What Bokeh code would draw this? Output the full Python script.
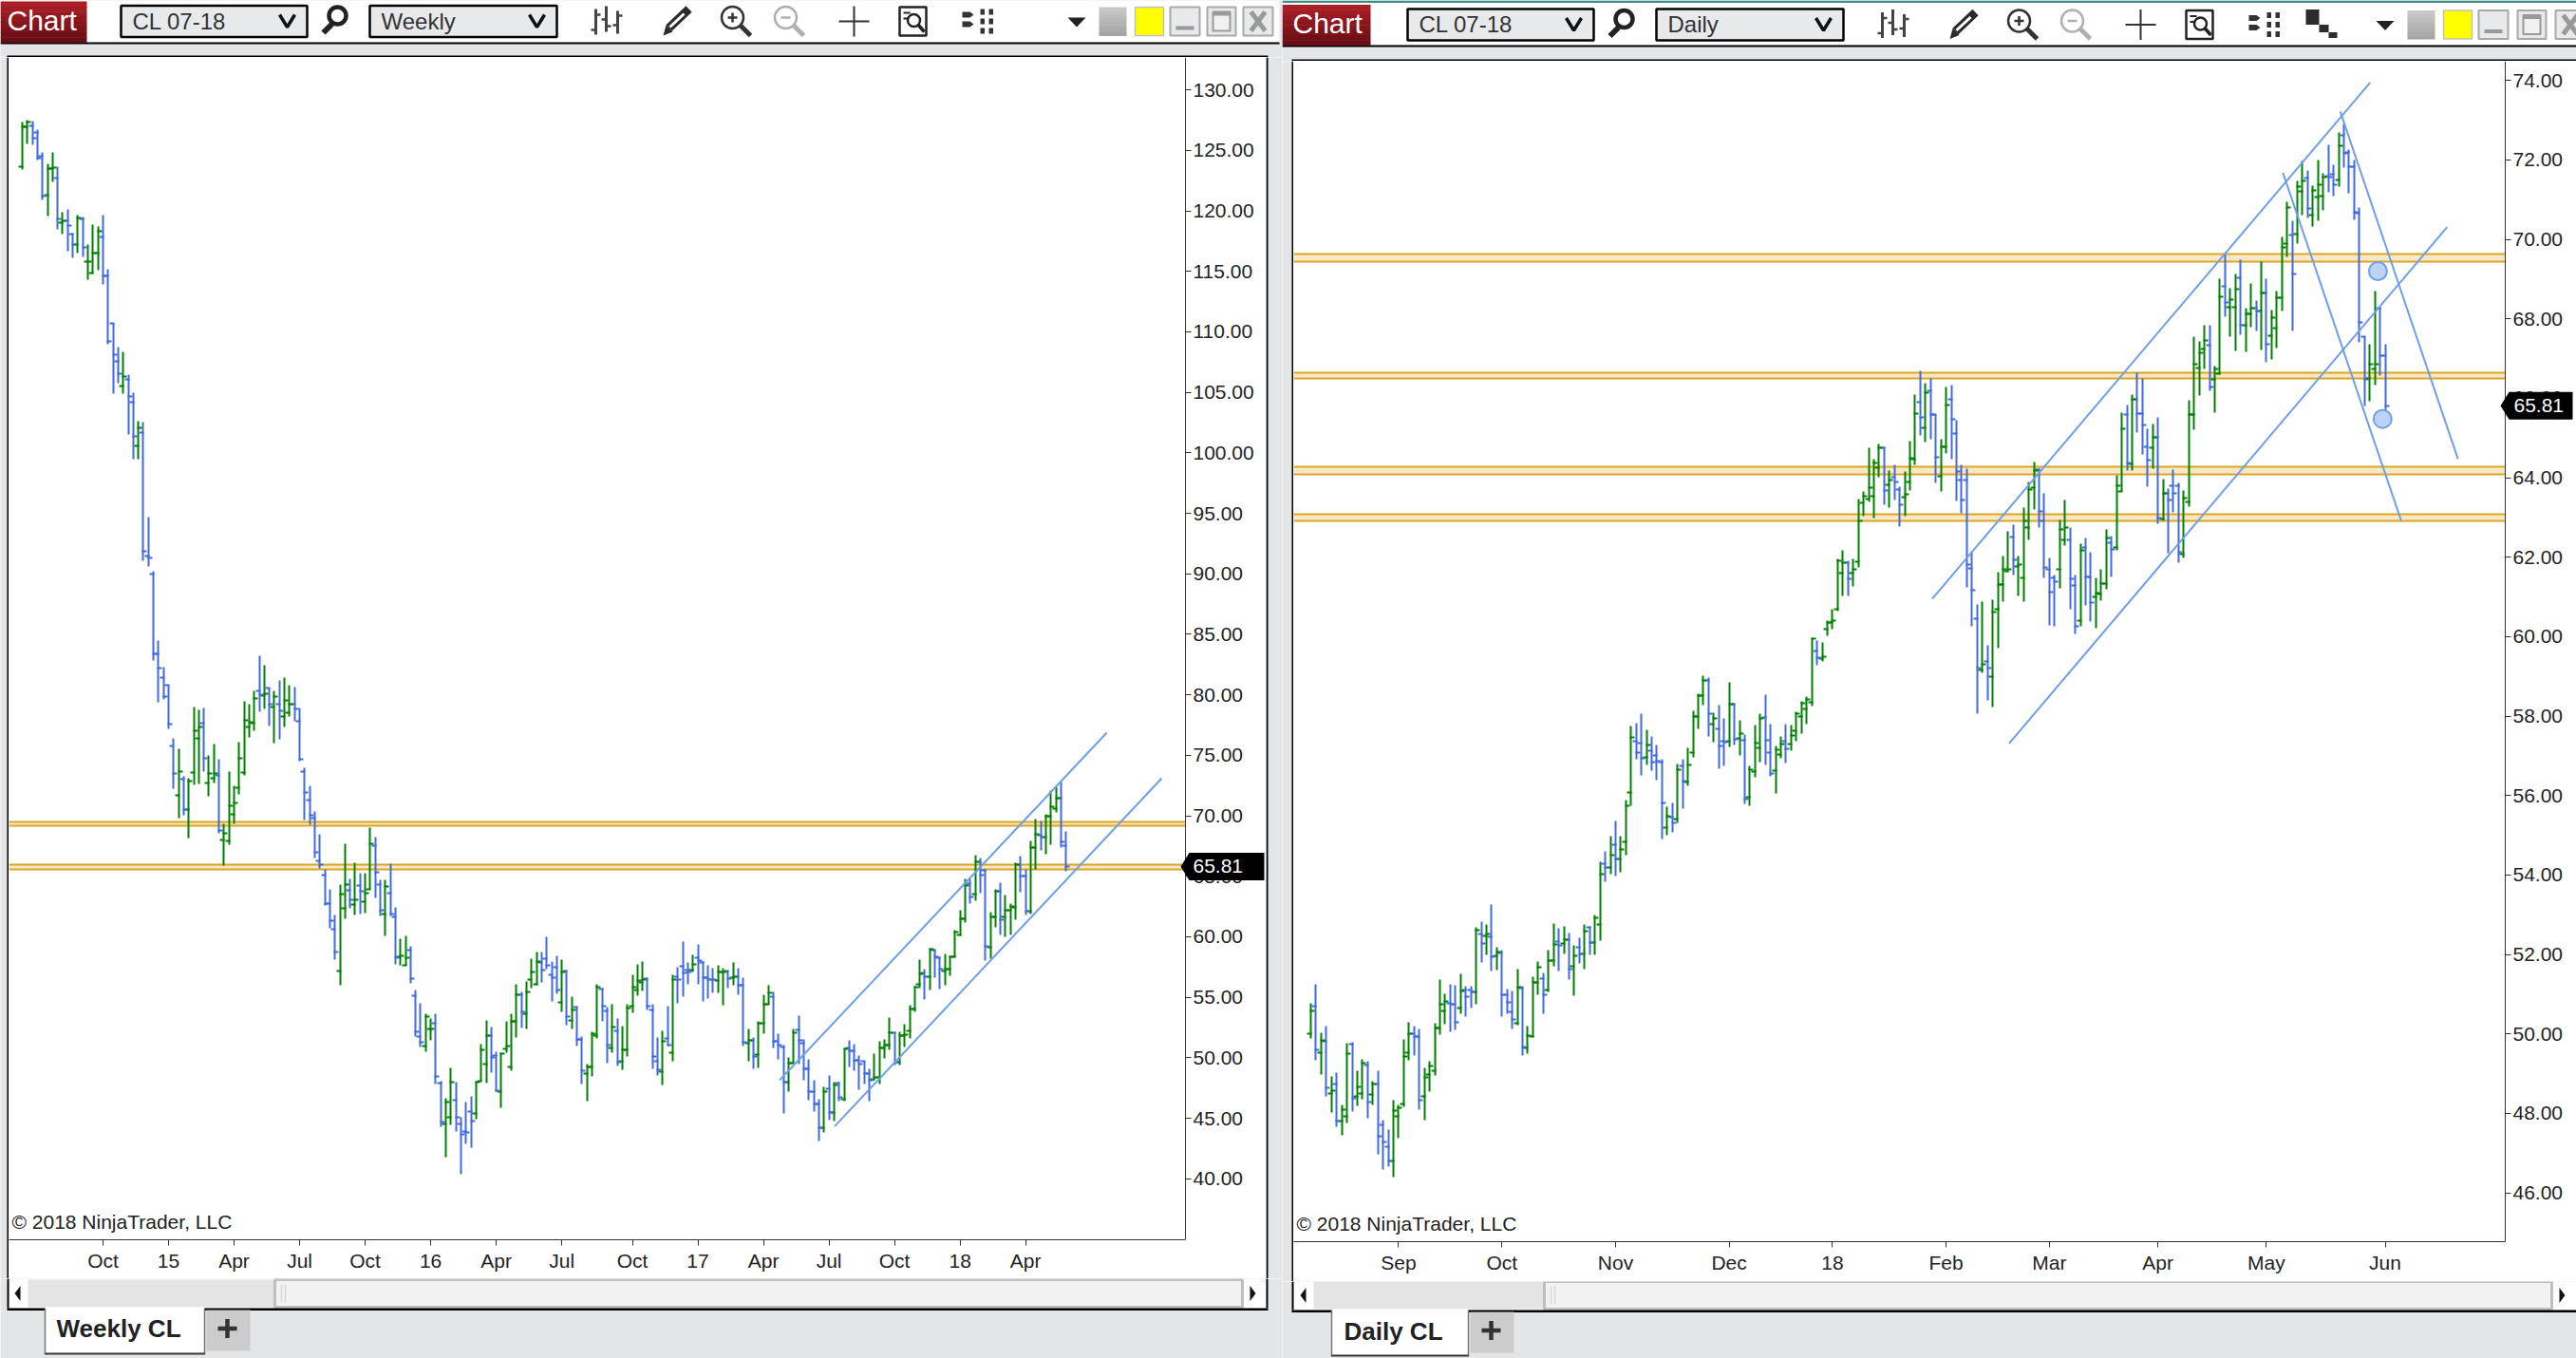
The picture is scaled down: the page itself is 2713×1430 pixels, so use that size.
from bokeh.plotting import figure
from bokeh.layouts import row, column
from bokeh.models import Range1d, FixedTicker, Label, NumeralTickFormatter, LinearAxis
from bokeh.core.properties import value
from bokeh.embed import file_html
from bokeh.resources import INLINE

# ---------- weekly CL 07-18 ----------
weekly_high = [127.33,127.48,127.41,126.72,124.82,123.87,124.86,123.64,119.91,120.1,
 118.16,119.61,119.46,117.25,118.85,118.7,119.65,115.2,110.67,108.76,
 108.38,106.48,105.0,102.64,102.5,94.7,90.2,84.5,82.3,80.8,
 76.4,75.5,73.26,73.08,78.96,78.76,78.87,75.0,75.9,74.7,
 69.37,73.62,72.45,76.05,79.42,79.2,80.36,83.2,82.44,80.58,
 80.3,81.16,81.4,80.76,80.67,78.87,73.96,72.51,70.34,68.46,
 65.6,63.89,61.78,64.32,67.66,64.75,66.09,65.26,65.26,69.0,
 68.23,64.69,64.69,66.03,62.4,59.87,60.04,59.18,55.56,54.47,
 53.6,53.24,53.67,48.1,46.68,49.13,47.96,45.05,46.34,46.77,
 48.1,51.1,53.12,52.5,50.48,50.42,53.04,53.67,56.04,55.41,
 56.27,58.16,58.71,58.71,59.96,57.92,58.42,58.08,57.22,55.02,
 54.23,51.72,49.45,52.12,56.04,55.75,54.16,54.39,53.21,52.59,
 54.39,56.85,57.69,57.92,56.64,54.39,51.64,52.19,54.26,56.85,
 57.45,59.57,57.84,58.47,59.36,57.95,57.64,57.4,57.61,57.37,
 57.22,57.84,57.37,56.59,52.35,51.64,53.03,55.18,55.96,55.44,
 51.96,51.07,49.99,52.35,53.45,51.49,49.87,48.11,46.54,47.56,
 48.56,47.96,48.01,50.83,51.46,51.1,50.21,49.73,49.05,50.31,
 51.36,51.49,53.29,52.14,52.14,52.75,54.32,55.89,58.1,57.32,
 59.02,58.95,58.32,58.55,58.45,60.52,62.22,64.75,64.75,66.72,
 66.48,65.56,62.03,63.92,64.44,63.42,62.71,66.09,66.66,65.56,
 67.89,69.7,69.54,70.09,72.05,72.37,72.81,68.68]
weekly_low = [123.41,125.54,125.47,124.17,120.94,119.53,122.42,118.47,118.09,116.7,
 116.1,116.5,116.2,114.3,114.8,115.1,113.9,109.0,104.92,105.76,
 104.9,101.53,99.5,99.44,91.07,90.6,82.8,79.35,79.6,77.2,
 72.2,69.8,70.0,68.17,72.54,72.65,73.67,71.62,72.74,68.57,
 65.9,67.63,69.37,71.8,73.36,76.5,77.05,78.6,78.84,77.45,
 76.0,76.33,77.36,78.2,77.84,74.5,69.68,69.25,66.5,65.66,
 62.6,60.69,58.12,56.0,61.49,62.38,61.8,61.89,61.98,63.89,
 63.23,61.75,60.09,61.69,57.72,57.6,57.6,56.13,51.76,50.9,
 50.5,51.45,47.85,44.28,41.77,44.48,43.91,40.4,42.91,42.6,
 44.94,48.1,47.91,48.79,47.19,45.88,50.45,48.96,51.7,52.42,
 52.39,55.78,55.96,56.25,57.32,54.68,55.3,53.82,52.72,52.4,
 51.0,47.85,46.41,48.43,51.62,53.03,49.58,50.44,49.32,49.03,
 50.13,53.74,55.12,55.49,53.97,49.11,48.56,47.77,50.96,49.71,
 54.52,55.05,56.07,57.06,56.07,54.65,54.89,55.36,55.36,54.37,
 55.75,55.99,55.2,51.0,49.71,49.08,49.19,52.01,54.44,50.83,
 49.89,45.42,47.22,49.53,49.47,48.11,46.52,45.55,43.14,43.8,
 44.84,44.76,46.44,46.39,49.26,48.95,47.38,47.85,46.39,48.11,
 47.8,49.94,50.68,49.42,49.42,50.89,51.62,53.82,55.75,54.84,
 55.62,56.64,55.7,56.02,56.8,58.24,60.04,61.2,62.77,62.98,
 63.6,58.06,58.16,60.8,60.18,60.02,60.18,61.43,63.71,61.8,
 61.9,65.56,67.13,66.85,67.63,70.3,67.4,65.43]
weekly_open = [123.64,126.95,127.03,126.46,124.55,121.32,123.49,122.73,119.0,119.2,
 118.09,117.2,119.3,115.77,114.85,116.5,117.86,114.6,110.67,107.55,
 105.53,106.03,104.2,100.58,101.7,91.5,90.0,83.35,81.4,80.76,
 75.8,71.7,73.0,70.51,73.59,76.39,77.67,72.71,73.1,73.36,
 68.0,67.94,70.11,72.34,73.56,77.36,77.67,80.3,79.93,80.58,
 79.0,79.2,78.2,78.53,79.2,77.84,73.65,71.31,69.83,66.29,
 65.12,62.75,60.6,57.18,62.38,63.83,62.69,64.26,62.89,63.95,
 67.54,64.32,61.89,63.63,61.63,58.38,57.6,58.9,55.13,51.76,
 50.99,52.36,52.84,47.91,44.54,45.08,46.51,44.54,43.91,45.57,
 45.4,48.1,49.48,51.8,50.19,47.19,50.73,49.25,52.99,55.18,
 53.67,56.48,56.07,57.9,58.21,56.85,57.48,54.57,57.16,53.08,
 54.18,51.51,48.69,49.21,51.83,55.7,53.87,50.78,52.22,49.71,
 50.62,54.26,55.6,56.22,56.54,53.92,49.73,48.87,51.59,50.42,
 56.67,57.58,57.27,57.22,58.24,57.84,56.59,56.48,56.38,57.11,
 57.16,56.59,56.72,56.01,51.2,51.44,50.26,52.82,54.44,55.07,
 51.36,50.91,47.98,49.58,52.32,51.17,49.08,47.2,46.18,44.24,
 47.43,45.5,47.9,46.54,50.83,50.57,49.81,49.73,48.69,48.22,
 48.37,50.78,51.04,52.09,49.61,51.83,52.2,54.05,56.07,57.01,
 56.67,58.89,58.27,57.19,57.32,58.32,60.15,61.51,64.39,63.55,
 66.17,65.49,59.1,61.67,63.73,61.64,62.22,62.43,65.98,64.99,
 62.09,67.4,68.36,68.23,69.93,70.61,71.42,67.53]
weekly_close = [126.95,127.33,126.0,124.36,121.2,123.49,123.57,119.3,119.15,118.77,
 117.2,119.42,116.95,115.8,116.5,118.3,114.6,109.2,108.08,106.56,
 106.3,104.65,101.35,102.03,91.83,91.3,83.35,82.2,79.85,77.6,
 73.5,73.65,70.5,72.88,77.0,77.33,74.76,73.5,73.5,68.8,
 68.57,70.85,71.05,74.76,77.9,77.73,79.73,80.0,80.1,79.2,
 79.84,78.7,79.5,79.2,78.84,74.68,71.94,70.03,66.97,65.97,
 62.75,61.32,58.72,63.55,64.32,63.03,63.03,63.75,63.6,67.68,
 65.35,62.18,64.17,61.89,58.27,58.4,58.27,56.55,52.13,51.27,
 53.39,52.36,48.45,44.68,46.34,47.99,45.08,43.63,43.82,44.77,
 47.99,50.62,51.8,50.05,47.28,50.33,50.99,52.99,55.18,53.81,
 55.44,57.06,57.98,57.27,57.66,56.62,55.62,57.06,53.4,53.97,
 51.51,48.92,49.21,51.98,55.8,54.29,51.04,52.53,49.63,50.62,
 54.13,55.86,56.38,56.48,54.29,50.13,49.03,51.38,51.04,56.48,
 56.48,57.0,57.11,57.71,58.05,56.59,56.48,56.46,57.11,57.11,
 56.54,56.72,56.01,51.25,51.44,50.1,52.82,54.44,55.39,51.36,
 51.04,47.98,49.58,52.09,51.44,49.08,47.2,46.18,44.24,47.22,
 45.5,47.77,46.73,50.73,50.57,49.81,49.47,48.69,48.17,48.37,
 50.83,51.04,52.09,49.61,51.83,51.94,54.05,55.81,56.93,56.67,
 58.95,58.32,57.32,57.32,58.37,60.41,61.51,64.26,63.29,66.17,
 65.12,59.21,61.67,63.79,61.43,62.22,62.48,65.98,64.99,62.09,
 67.4,68.5,68.23,69.93,70.77,71.42,67.87,65.81]

# ---------- daily CL 07-18 ----------
daily_high = [50.77,51.25,50.03,50.2,48.93,49.02,48.2,49.76,49.79,49.07,
 49.36,49.31,48.8,49.07,47.83,47.59,48.33,48.2,49.86,50.29,
 50.2,50.12,49.14,49.31,50.26,51.37,51.0,51.25,51.22,51.5,
 51.21,51.19,52.67,52.82,52.75,53.25,52.17,52.1,51.12,51.07,
 51.62,51.21,50.19,51.45,51.81,51.53,52.12,52.77,52.65,52.7,
 52.53,52.22,52.43,52.75,52.7,52.99,54.32,54.59,54.97,55.36,
 54.98,55.88,57.75,57.82,58.06,57.65,57.48,57.27,56.91,55.72,
 55.81,56.79,56.91,57.19,58.13,58.56,59.01,58.97,58.09,58.28,
 57.94,58.84,58.32,57.89,57.54,56.75,57.77,58.05,58.53,57.8,
 57.24,57.49,57.8,57.77,58.1,58.36,58.48,59.98,59.9,59.86,
 60.4,60.69,61.96,62.18,61.9,61.95,63.46,63.65,64.75,64.46,
 64.86,64.78,64.17,64.32,63.77,64.15,64.91,66.09,66.69,66.37,
 66.5,65.59,64.97,66.28,66.33,65.45,64.32,64.22,62.13,60.81,
 60.87,59.78,60.92,61.62,62.02,62.64,62.82,62.02,63.25,63.9,
 64.4,64.22,63.61,61.97,61.54,62.93,63.44,62.74,61.54,62.33,
 62.48,62.12,61.47,61.69,62.69,62.52,64.07,65.63,65.82,66.09,
 66.64,66.5,65.24,65.35,65.52,63.97,63.72,64.21,63.88,63.69,
 65.94,67.54,67.43,67.85,67.83,66.81,69.01,69.62,68.77,69.13,
 69.49,68.28,68.89,68.46,69.43,69.01,68.23,68.69,70.06,70.95,
 70.48,71.47,71.97,71.73,71.35,72.01,71.66,72.37,71.87,72.69,
 72.91,72.27,72.0,70.81,67.55,67.37,68.69,68.3,67.35]
daily_low = [49.89,49.34,48.98,48.43,48.03,47.67,47.45,47.76,48.05,48.19,
 48.36,47.88,48.22,46.97,46.59,46.66,46.4,47.38,48.16,49.34,
 49.46,48.1,47.84,48.55,48.96,49.99,50.25,50.06,50.11,50.5,
 50.44,50.66,50.75,51.8,51.99,51.59,51.61,50.44,50.51,50.13,
 50.23,49.46,49.51,49.92,50.98,50.51,51.06,51.71,51.59,52.02,
 51.37,50.97,51.77,51.63,52.0,51.99,52.35,53.84,54.02,53.98,
 54.07,54.5,55.75,56.91,56.51,56.77,56.63,56.39,54.91,55.0,
 55.07,55.31,55.67,56.24,56.96,57.68,58.28,57.49,57.34,56.68,
 56.75,57.23,57.27,57.01,55.79,55.74,56.46,56.84,56.77,56.48,
 56.05,56.94,56.82,57.13,57.37,57.56,57.8,58.26,59.27,59.38,
 60.03,60.2,60.64,61.02,61.02,61.27,61.75,63.03,63.38,62.99,
 64.02,63.33,63.26,63.45,62.78,63.04,63.69,64.33,65.07,64.9,
 64.97,63.87,63.66,64.61,64.47,63.42,63.11,61.25,60.27,58.07,
 59.1,58.4,58.22,59.72,60.89,61.62,61.56,61.03,60.87,62.44,
 63.19,62.75,61.49,60.29,60.25,61.22,62.3,60.7,60.08,60.27,
 60.79,60.39,60.22,60.91,61.2,61.51,62.18,63.65,64.19,64.17,
 65.14,64.59,63.78,64.22,62.85,62.92,62.11,63.13,61.87,61.99,
 63.27,65.22,66.06,66.75,66.2,65.65,66.6,68.06,67.55,67.19,
 67.6,67.16,67.79,67.69,67.22,66.91,66.97,67.27,68.19,69.56,
 67.69,69.9,70.61,70.53,70.33,70.47,70.72,71.19,71.08,71.32,
 71.8,71.17,70.5,67.41,65.8,65.92,66.34,66.56,65.51]
daily_open = [50.0,50.7,49.53,49.82,48.51,48.74,47.8,47.92,49.74,48.43,
 48.5,49.21,48.47,48.74,47.71,47.17,46.8,47.92,48.24,49.52,
 50.0,49.93,48.43,48.98,49.08,50.15,50.58,50.77,50.75,50.66,
 51.1,51.1,51.06,52.52,52.47,52.45,51.96,52.03,50.98,50.55,
 50.27,51.14,49.65,49.94,51.3,51.39,51.1,51.84,52.32,52.28,
 52.37,51.69,52.19,52.01,52.68,52.3,52.75,54.28,54.19,54.76,
 54.4,54.83,56.08,57.37,57.32,56.96,57.13,57.01,56.84,55.19,
 55.46,55.41,56.75,56.34,57.08,57.99,58.51,58.9,57.8,57.68,
 57.37,57.37,58.3,57.43,57.39,55.96,56.6,57.2,57.97,57.08,
 56.63,57.03,57.37,57.3,57.63,57.99,58.18,58.35,59.65,59.45,
 60.19,60.35,60.7,61.6,61.85,61.6,61.89,63.37,63.46,63.54,
 64.26,64.76,63.82,64.01,63.7,63.51,63.9,64.46,65.91,65.26,
 66.2,65.58,64.04,64.78,65.98,65.11,63.94,63.94,61.72,60.46,
 59.15,59.38,59.0,60.7,61.31,61.64,62.51,61.77,61.48,62.75,
 63.74,64.2,62.91,61.7,61.48,61.7,62.44,62.44,61.29,60.4,
 62.25,61.51,61.0,61.07,61.34,62.37,62.25,63.65,65.58,64.36,
 65.97,65.62,64.78,64.76,65.02,62.96,63.61,63.79,63.79,62.07,
 63.39,65.6,66.77,67.24,67.33,66.48,66.62,68.82,68.3,68.3,
 69.04,67.84,68.12,68.28,68.2,68.66,67.57,67.76,68.52,69.9,
 70.11,70.14,71.21,71.54,70.62,71.06,71.1,71.59,71.65,71.49,
 72.63,72.18,71.83,70.67,67.55,66.5,66.74,68.28,67.07]
daily_close = [50.58,49.6,49.84,48.63,48.58,47.8,48.09,49.5,48.38,48.67,
 49.26,48.28,48.73,47.42,47.28,46.8,48.07,48.14,49.43,50.0,
 49.93,48.33,48.9,49.19,50.15,50.74,50.81,50.75,50.29,51.08,
 50.94,51.06,52.61,52.28,52.52,51.95,52.06,50.98,50.79,50.37,
 51.18,49.66,49.96,51.3,51.68,50.98,51.84,52.25,52.23,52.37,
 51.63,51.96,52.01,52.59,52.3,52.92,54.02,54.19,54.5,54.4,
 54.64,55.74,57.46,57.08,56.94,57.27,56.84,56.87,55.81,55.48,
 55.31,56.65,56.36,56.77,57.99,58.51,58.9,58.06,57.94,57.25,
 57.34,58.3,57.42,57.56,55.91,56.65,57.32,57.94,57.39,56.56,
 57.15,57.3,57.18,57.51,58.06,58.32,58.42,59.95,59.46,59.5,
 60.35,60.4,61.9,61.85,61.45,61.69,62.91,63.54,63.76,64.38,
 64.76,63.68,63.94,63.9,63.32,63.58,64.49,65.62,65.52,66.15,
 65.58,64.52,64.78,65.82,65.48,64.16,63.44,61.82,61.18,59.2,
 59.31,59.22,60.62,61.31,61.7,61.69,61.93,61.81,62.91,63.7,
 64.18,63.15,61.75,61.12,61.39,62.71,62.75,61.46,60.27,62.18,
 61.51,60.86,61.1,61.34,62.49,62.2,63.79,65.24,64.38,65.97,
 65.62,65.33,64.45,65.02,62.99,63.61,63.44,63.61,62.12,63.48,
 65.6,66.86,67.15,67.45,66.29,66.74,68.56,68.42,68.49,68.74,
 67.84,68.12,68.28,68.2,68.66,67.35,68.02,68.54,69.81,70.8,
 69.13,71.33,71.47,70.79,71.23,71.38,71.57,71.57,71.38,72.36,
 72.16,71.83,70.69,67.9,66.48,66.86,66.86,67.07,65.81]

weekly_ticks = [16,29,42,55,68,81,94,107,121,134,147,160,173,186,199]
weekly_tick_labels = ["Oct","15","Apr","Jul","Oct","16","Apr","Jul","Oct","17","Apr","Jul","Oct","18","Apr"]
daily_ticks = [17,37,59,81,101,123,143,164,185,208]
daily_tick_labels = ["Sep","Oct","Nov","Dec","18","Feb","Mar","Apr","May","Jun"]
weekly_price_ticks = list(range(40,131,5))
daily_price_ticks = list(range(46,75,2))

weekly_bands = [(69.14,69.49),(65.56,65.95)]
daily_bands = [(69.45,69.62),(66.49,66.64),(64.09,64.28),(62.91,63.08)]
weekly_channels = [((150.2,215.1),(48.14,76.87)),((161.1,226.0),(44.32,73.1))]
daily_channels = [((120.3,205.1),(60.95,73.95)),((135.2,220.0),(57.31,70.31)),
                  ((199.3,222.1),(73.22,64.47)),((188.2,211.1),(71.68,62.92))]
daily_circles_x = [206.6,207.5]
daily_circles_y = [69.2,65.48]
last_price = 65.81

FONT = "Liberation Sans"
GREEN = "#008000"; BLUE = "#4169E1"; GOLD = "#DAA520"; PALE = "#F8E8C8"
LINE = "#6F9FE8"; GRAY = "#E4E5E7"; DARK = "#2B2B2B"

def chart(o,h,l,c,ticks,labels,pticks,bands,channels,px0,step,cx0,cw,cy0,ch,fr,ft,fb,pval,py0,pscale,tag_x,tag_w,text_x):
    # the frame runs under the price scale; the price axis sits at x = fr inside it
    fl=cx0
    ix = lambda px:(px-px0)/step
    iy = lambda py:pval+(py0-py)/pscale
    p = figure(width=cw,height=ch,x_range=Range1d(ix(fl),ix(cx0+cw)),y_range=Range1d(iy(fb),iy(ft)),
               y_axis_location=None,output_backend="svg",toolbar_location=None,frame_align=False,
               min_border_left=0,min_border_right=0,min_border_top=ft-cy0,min_border_bottom=cy0+ch-fb,
               background_fill_color="white",border_fill_color="white",outline_line_color=None)
    p.grid.visible=False
    price_axis=LinearAxis(fixed_location=ix(fr),ticker=FixedTicker(ticks=pticks),formatter=NumeralTickFormatter(format="0.00"))
    p.add_layout(price_axis,"right")
    p.xaxis.ticker=FixedTicker(ticks=ticks)
    p.xaxis.major_label_overrides=dict(zip(ticks,labels))
    p.xaxis.bounds=(ix(fl),ix(fr))
    for a in (p.xaxis[0],price_axis):
        a.major_label_text_font=FONT; a.major_label_text_font_size="21px"; a.major_label_text_color="#222222"
        a.axis_line_color="#333333"; a.major_tick_line_color="#333333"; a.minor_tick_line_color=None
        a.major_tick_in=0; a.major_tick_out=6
    p.xaxis.major_label_standoff=4
    price_axis.major_label_standoff=2
    n=range(len(c))
    col=[GREEN if c[i]>=o[i] else BLUE for i in n]
    # bars sit on whole device pixels, as in the trading platform
    snap_x=lambda i:ix(round(px0+i*step))
    snap_y=lambda v:iy(round(py0-(v-pval)*pscale))
    xs=[snap_x(i) for i in n]
    tk=4/step
    for lo,hi in bands:
        p.quad(left=ix(fl),right=ix(fr),bottom=lo,top=hi,fill_color=PALE,line_color=None)
        p.segment(x0=[ix(fl)]*2,x1=[ix(fr)]*2,y0=[snap_y(lo),snap_y(hi)],y1=[snap_y(lo),snap_y(hi)],line_color=GOLD,line_width=2)
    p.segment(x0=xs,x1=xs,y0=[snap_y(v) for v in l],y1=[snap_y(v) for v in h],line_color=col,line_width=2)
    oy=[snap_y(v) for v in o]; cy=[snap_y(v) for v in c]
    p.segment(x0=[x-tk for x in xs],x1=[x+1/step for x in xs],y0=oy,y1=oy,line_color=col,line_width=2)
    p.segment(x0=[x-1/step for x in xs],x1=[x+tk for x in xs],y0=cy,y1=cy,line_color=col,line_width=2)
    for cxs,cys in channels:
        p.line(list(cxs),list(cys),line_color=LINE,line_width=2)
    # last price tag
    hh=14.5/pscale
    x1,x2,x3=ix(tag_x),ix(tag_x+9),ix(tag_x+tag_w)
    p.patch([x1,x2,x3,x3,x2],[last_price,last_price+hh,last_price+hh,last_price-hh,last_price-hh],
            fill_color="black",line_color=None,level="overlay")
    p.text(x=[ix(text_x)],y=[last_price],text=[f"{last_price:.2f}"],text_color="white",text_font=value(FONT),
           text_font_size=value("21px"),text_baseline="middle",level="overlay")
    p.add_layout(Label(x=ix(fl+3),y=iy(fb-19.5),text="\u00a9 2018 NinjaTrader, LLC",text_color="#222222",text_font=FONT,
                 text_font_size="21px",text_baseline="middle"))
    return p

def strip(x0,x1,y0,y1,bg):
    p=figure(width=x1-x0,height=y1-y0,x_range=Range1d(x0,x1),y_range=Range1d(y1,y0),x_axis_type=None,y_axis_type=None,
             output_backend="svg",toolbar_location=None,min_border=0,background_fill_color=bg,border_fill_color=bg,
             outline_line_color=None,frame_align=False)
    p.grid.visible=False
    return p

def box(p,l,r,t,b,fill,line=None,w=1):
    p.quad(left=l,right=r,top=t,bottom=b,fill_color=fill,line_color=line,line_width=w)

def ln(p,xs,ys,c=DARK,w=2):
    p.line(xs,ys,line_color=c,line_width=w)

def txt(p,x,y,s,size,c=DARK,style="normal",align="left"):
    p.text(x=[x],y=[y],text=[s],text_font=value(FONT),text_font_size=value(size),text_color=c,text_font_style=style,
           text_baseline="middle",text_align=align)

def mix(a,b,t):
    return "#%02x%02x%02x"%tuple(round(a[i]+(b[i]-a[i])*t) for i in range(3))

def gradient(p,l,r,t,b,ca,cb,n=8):
    for i in range(n):
        box(p,l,r,t+(b-t)*i/n,t+(b-t)*(i+1)/n+0.5,mix(ca,cb,i/(n-1)))

def magnifier(p,cx,cy,c,sign):
    p.scatter([cx],[cy],size=23,fill_color="white",fill_alpha=0,line_color=c,line_width=2.5)
    ln(p,[cx+8,cx+19],[cy+8,cy+19],c,5)
    ln(p,[cx-5,cx+5],[cy,cy],c,2.5)
    if sign: ln(p,[cx,cx],[cy-5,cy+5],c,2.5)

def topbar(x0,x1,height,dx,dy,line_y,frame_l,frame_r,combo,has_squares,shift,bw,chart_x):
    p=strip(x0,x1,0,height,GRAY)
    box(p,x0,x1 if dx else 1347,0,line_y,"white")
    if dx:
        box(p,x0,x1,0,2.5,"#3E8E8A")
    box(p,x0,x1 if dx else 1347,line_y,line_y+2,"black")
    box(p,frame_l,frame_r,height-2,height,"black")
    gradient(p,x0,x0+91+(2 if dx else 0),dy+1,line_y,(170,30,38),(105,14,20))
    txt(p,x0+chart_x,(line_y+dy)/2-1,"Chart","30px","white")
    X=lambda v:v+dx
    Y=lambda v:v+dy
    for l,r,s in ((127,323,"CL 07-18"),(389,586,combo)):
        box(p,X(l),X(r),Y(5.5),Y(38.5),"#E8E9EB","black",2.5)
        txt(p,X(l+12),Y(21.5),s,"24px","#333333")
        ln(p,[X(r-29),X(r-21),X(r-13)],[Y(15),Y(28),Y(15)],"#111111",3.5)
    p.scatter([X(355)],[Y(16)],size=18,fill_color="white",line_color="#222222",line_width=4.5)
    ln(p,[X(349),X(340)],[Y(25),Y(34)],"#222222",6)
    for bx,t,b in ((627,9,36),(638,6,33),(650,11,35)):
        ln(p,[X(bx),X(bx)],[Y(t),Y(b)],"#444444",3)
    for a,b,yy in ((622,627,31),(627,632,15),(633,638,20),(638,643,27),(645,650,26),(650,655,16)):
        ln(p,[X(a),X(b)],[Y(yy),Y(yy)],"#444444",2.5)
    ln(p,[X(704),X(725)],[Y(29),Y(9)],"#2b2b2b",9)
    ln(p,[X(705),X(720)],[Y(28),Y(14)],"white",3)
    p.patch([X(698),X(701),X(708)],[Y(37),Y(26),Y(33)],fill_color="#2b2b2b",line_color=None)
    magnifier(p,X(771),Y(18),"#333333",True)
    magnifier(p,X(827),Y(18),"#B0B0B0",False)
    ln(p,[X(883),X(915)],[Y(22),Y(22)],"#333333",2)
    ln(p,[X(899),X(899)],[Y(6),Y(38)],"#333333",2)
    box(p,X(947),X(975),Y(7),Y(37),"white","#222222",2.5)
    for yy in (13,19):
        ln(p,[X(951),X(958)],[Y(yy),Y(yy)],"#222222",2)
    p.scatter([X(962)],[Y(21)],size=13,fill_color="white",line_color="#222222",line_width=2.5)
    ln(p,[X(966),X(973)],[Y(25),Y(33)],"#222222",3.5)
    for gx in (1032,1041):
        for gy in (9,19,29):
            box(p,X(gx),X(gx+4.5),Y(gy),Y(gy+6),"#333333")
    for gy in (15,25):
        p.patch([X(1013),X(1021),X(1025),X(1021),X(1013)],[Y(gy-3),Y(gy-3),Y(gy),Y(gy+3),Y(gy+3)],fill_color="#333333",line_color=None)
    if has_squares:
        box(p,X(1073),X(1087),Y(6),Y(22),"#2b2b2b")
        box(p,X(1087),X(1097),Y(22),Y(30),"#2b2b2b")
        box(p,X(1097),X(1106),Y(30),Y(36),"#2b2b2b")
    S=lambda v:v+dx+shift
    p.patch([S(1124),S(1143),S(1133.5)],[Y(18),Y(18),Y(28)],fill_color="#222222",line_color=None)
    gradient(p,S(1157),S(1186),Y(7),Y(37),(200,200,200),(165,165,165))
    box(p,S(1195),S(1225),Y(7),Y(37),"#FFFF00","#C0C0C0",1.5)
    for k,(l,r) in enumerate(((1232,1263),(1271,1301),(1309,1340))):
        box(p,S(l+bw*k),S(r+bw*k),Y(7),Y(37),"#E8E9EB","#A8A8A8",2)
    l,r=1232,1263
    box(p,S(l+6),S(r-6),Y(27),Y(31),"#999999")
    l,r=1271+bw,1301+bw
    box(p,S(l+6),S(r-6),Y(12),Y(32),"#F0F0F0","#999999",2)
    box(p,S(l+6),S(r-6),Y(12),Y(16),"#999999")
    l,r=1309+2*bw,1340+2*bw
    ln(p,[S(l+8),S(r-8)],[Y(12),Y(32)],"#999999",5)
    ln(p,[S(l+8),S(r-8)],[Y(32),Y(12)],"#999999",5)
    return p

def bottombar(x0,x1,y0,y1,frame_l,frame_r,sb_t,sb_b,lbtn_r,thumb_l,thumb_r,rbtn_l,rbtn_r,border_y,tab_l,tab_r,tab_b,plus_l,plus_r,plus_b,title,title_x,title_up):
    p=strip(x0,x1,y0,y1,GRAY)
    box(p,frame_l,frame_r,y0,border_y,"white")
    box(p,frame_l,frame_l+2,y0,border_y,"black")
    if frame_r<x1:
        box(p,frame_r-2,frame_r,y0,border_y,"black")
    box(p,lbtn_r,thumb_l,sb_t,sb_b,"#E4E4E4")
    box(p,thumb_l,thumb_r,sb_t,sb_b,"#F2F2F2","#BFBFBF",3)
    for gx in (thumb_l+7,thumb_l+11):
        ln(p,[gx,gx],[sb_t+5,sb_b-5],"#D8D8D8",1.5)
    mid=(sb_t+sb_b)/2
    p.patch([lbtn_r-14,lbtn_r-8,lbtn_r-8],[mid,mid-8,mid+8],fill_color="#111111",line_color=None)
    p.patch([rbtn_l+12,rbtn_l+6,rbtn_l+6],[mid,mid-8,mid+8],fill_color="#111111",line_color=None)
    box(p,frame_l,frame_r,border_y,border_y+2.5,"black")
    box(p,plus_l,plus_r,border_y+2,plus_b,"#CCCCCC")
    c=(plus_l+plus_r)/2-1; m=(border_y+plus_b)/2-1
    ln(p,[c-10,c+10],[m,m],"#333333",4.5)
    ln(p,[c,c],[m-10,m+10],"#333333",4.5)
    box(p,tab_l,tab_r,border_y-1,tab_b,"white")
    ln(p,[tab_l,tab_l],[border_y,tab_b],"#777777",1.5)
    ln(p,[tab_r,tab_r],[border_y,tab_b],"#777777",1.5)
    box(p,tab_l,tab_r,tab_b-2,tab_b,"#333333")
    txt(p,title_x,(border_y+tab_b)/2-title_up,title,"26px","#222222","bold")
    return p

def margin_left(x0,x1,y0,y1):
    p=strip(x0,x1,y0,y1,GRAY)
    box(p,x1-2,x1,y0,y1,"black")
    return p

def margin_right(x0,x1,y0,y1):
    p=strip(x0,x1,y0,y1,GRAY)
    box(p,x0,x0+2,y0,y1,"black")
    return p

# ---------- left panel ----------
left_top=topbar(0,1350,60,0,0,44,7,1335,"Weekly",False,0,0,7)
left_chart=chart(weekly_open,weekly_high,weekly_low,weekly_close,weekly_ticks,weekly_tick_labels,weekly_price_ticks,
                 weekly_bands,weekly_channels,23,5.31,9,1324,60,1286,1248,60,1305,40,1240.7,12.74,1243,88,1256)
left_bottom=bottombar(0,1350,1346,1430,7,1335,1347,1376,29,289,1308,1310,1331,1377,47,215,1426,217,263,1422,"Weekly CL",59,3)
left_mid=row(margin_left(0,9,60,1346),left_chart,margin_right(1333,1350,60,1346),spacing=0)
# ---------- right panel ----------
right_top=topbar(1350,2713,64,1355,3.5,47,1360,2713,"Daily",True,23,2,11)
daily_p=chart(daily_open,daily_high,daily_low,daily_close,daily_ticks,daily_tick_labels,daily_price_ticks,
              daily_bands,daily_channels,1380,5.44,1362,1351,64,1285,2638,64,1307,46,1255.5,41.83,2633,76,2647)
daily_p.scatter(daily_circles_x,daily_circles_y,size=19,fill_color="#BDD3F6",line_color="#6F9FE8",line_width=2)
right_bottom=bottombar(1350,2713,1349,1430,1360,2713,1349,1378,1383,1626,2687,2689,2711,1379,1402,1546,1428,1548,1594,1424,"Daily CL",1415,2)
right_mid=row(margin_left(1350,1362,64,1349),daily_p,spacing=0)

page=row(column(left_top,left_mid,left_bottom,spacing=0),column(right_top,right_mid,right_bottom,spacing=0),spacing=0)
open("out.html","w").write(file_html(page,INLINE))
